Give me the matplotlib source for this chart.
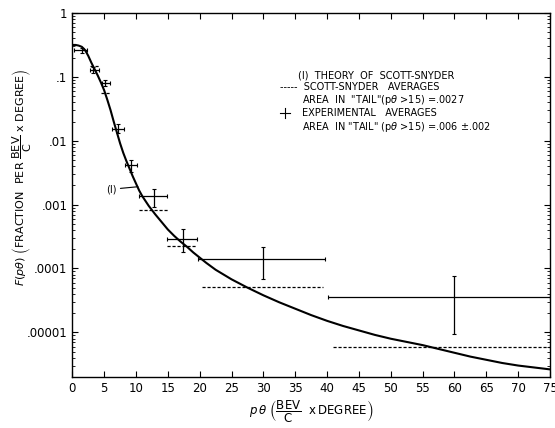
import numpy as np
import matplotlib
matplotlib.use("Agg")
import matplotlib.pyplot as plt
from matplotlib.lines import Line2D

plt.rcParams['font.family'] = ['DejaVu Sans']
plt.rcParams['mathtext.fontset'] = 'dejavusans'

# theory of Scott-Snyder (curve), log10 of F
theory_x = [0, 0.5, 1, 1.5, 2, 2.5, 3, 3.5, 4, 4.5, 5, 5.5, 6, 6.5, 7, 7.5, 8,
            8.5, 9, 9.5, 10, 10.5, 11, 12, 13, 14, 15, 16, 17, 18, 19, 20, 21,
            22.5, 25, 27.5, 30, 32.5, 35, 37.5, 40, 42.5, 45, 47.5, 50, 52.5,
            55, 57.5, 60, 62.5, 65, 67.5, 70, 72.5, 75]
theory_log = [-0.50, -0.50, -0.51, -0.53, -0.58, -0.67, -0.78, -0.88, -0.98,
              -1.09, -1.21, -1.36, -1.52, -1.70, -1.87, -2.04, -2.19, -2.32,
              -2.44, -2.56, -2.67, -2.78, -2.87, -3.02, -3.15, -3.27, -3.39,
              -3.49, -3.58, -3.66, -3.75, -3.83, -3.91, -4.02, -4.17, -4.30,
              -4.42, -4.53, -4.63, -4.73, -4.82, -4.90, -4.97, -5.04, -5.10,
              -5.15, -5.20, -5.26, -5.32, -5.38, -5.43, -5.48, -5.52, -5.55,
              -5.58]

# experimental averages
exp_x = [1.5, 3.3, 5.1, 7.1, 9.2, 12.8, 17.3, 30, 60]
exp_lo = [0.2, 2.8, 4.6, 6.2, 8.2, 10.4, 14.8, 19.8, 40.1]
exp_hi = [2.35, 4.2, 5.9, 8.1, 10.2, 14.9, 19.5, 39.7, 75]
exp_y = [0.26, 0.13, 0.081, 0.0151, 0.0041, 0.00134, 0.00029, 1.4e-4, 3.6e-5]
exp_ylo = [0.24, 0.115, 0.072, 0.013, 0.0032, 0.00092, 1.8e-4, 6.9e-5, 9.5e-6]
exp_yhi = [0.28, 0.145, 0.09, 0.018, 0.005, 0.00178, 4.2e-4, 2.15e-4, 7.5e-5]

# Scott-Snyder averages (dashed)
ss_lo = [2.8, 4.5, 10.4, 14.8, 20.3, 41]
ss_hi = [4.2, 5.9, 15, 19.5, 39.4, 75]
ss_y = [0.148, 0.056, 0.00083, 2.25e-4, 5.2e-5, 6e-6]

xticks = list(range(0, 80, 5))
yticks = [1, 0.1, 0.01, 0.001, 0.0001, 0.00001]
ylabels = ['1', '.1', '.01', '.001', '.0001', '.00001']

fig = plt.figure(figsize=(5.55, 4.28), dpi=100)
ax = fig.add_axes([0.1303, 0.1192, 0.8607, 0.8504])

ax.plot(theory_x, 10 ** np.array(theory_log), color='black', lw=1.5)

ex = np.array(exp_x)
ey = np.array(exp_y)
xerr = [ex - np.array(exp_lo), np.array(exp_hi) - ex]
yerr = [ey - np.array(exp_ylo), np.array(exp_yhi) - ey]
ax.errorbar(ex, ey, xerr=xerr, yerr=yerr, fmt='none', ecolor='black',
            elinewidth=0.9, capsize=1.5, capthick=0.8)

ax.hlines(ss_y, ss_lo, ss_hi, colors='black', linestyles=(0, (2.5, 1.5)), lw=0.9)

# (1) label pointing at curve
ax.annotate('(I)', xy=(10.3, 10 ** -2.72), xytext=(6.9, 10 ** -2.76),
            fontsize=7, ha='right', va='center',
            arrowprops=dict(arrowstyle='-', color='black', lw=0.8,
                            shrinkA=1, shrinkB=0))

ax.set_yscale('log')
ax.set_xlim(0, 75)
ax.set_ylim(2e-6, 1)
ax.set_xticks(xticks)
ax.set_xticklabels([str(t) for t in xticks])
ax.set_yticks(yticks)
ax.set_yticklabels(ylabels)
ax.tick_params(which='both', direction='in', top=True, right=True, labelsize=8.5)
ax.tick_params(which='major', length=4, width=0.8)
ax.tick_params(which='minor', length=2.5, width=0.6)
ax.minorticks_on()
ax.xaxis.set_minor_locator(matplotlib.ticker.NullLocator())
for s in ax.spines.values():
    s.set_linewidth(1.0)

# legend block
fs = 7
fig.text(298 / 555, 1 - 75 / 428, '(I)  THEORY  OF  SCOTT-SNYDER', fontsize=fs, va='center')
fig.text(280 / 555, 1 - 87 / 428, '-----  SCOTT-SNYDER   AVERAGES', fontsize=fs, va='center')
fig.text(302 / 555, 1 - 100 / 428, 'AREA  IN  "TAIL"(p$\\theta$ >15) =.0027', fontsize=fs, va='center')
fig.text(302 / 555, 1 - 113 / 428, 'EXPERIMENTAL   AVERAGES', fontsize=fs, va='center')
fig.text(302 / 555, 1 - 127 / 428, 'AREA  IN "TAIL" (p$\\theta$ >15) =.006 $\\pm$.002', fontsize=fs, va='center')
# small cross symbol for the experimental averages
cy = 1 - 113 / 428
fig.add_artist(Line2D([280 / 555, 290 / 555], [cy, cy], color='black', lw=0.8))
fig.add_artist(Line2D([285 / 555, 285 / 555], [cy - 5 / 428, cy + 5 / 428], color='black', lw=0.8))

ax.set_ylabel(r'$F(p\theta)\ \left(\mathrm{FRACTION\ \ PER\ }\dfrac{\mathrm{BEV}}{\mathrm{C}}\ \mathrm{x\ DEGREE}\right)$',
              fontsize=8)
ax.yaxis.set_label_coords(-0.08, 0.55)
ax.set_xlabel(r'$p\,\theta\ \left(\dfrac{\mathrm{BEV}}{\mathrm{C}}\ \ \mathrm{x\,DEGREE}\right)$',
              fontsize=8.5, labelpad=2)

fig.savefig('out.png', dpi=100)
